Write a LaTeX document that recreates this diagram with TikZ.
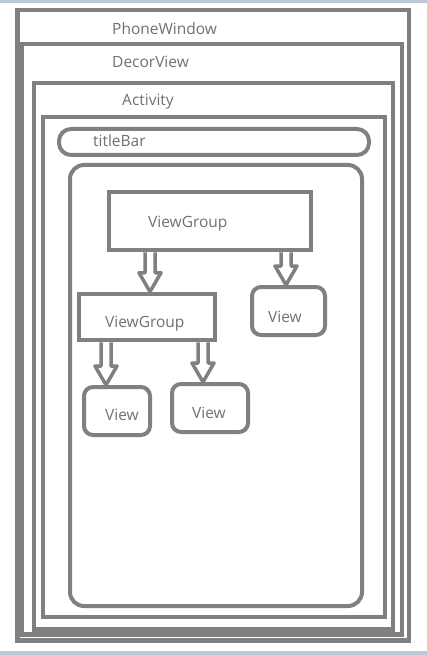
\documentclass[tikz,border=0pt]{standalone}
\usepackage{fontspec}
\setmainfont{Open Sans}
\usetikzlibrary{arrows.meta,positioning,calc}

\definecolor{edge}{RGB}{128,128,128}
\definecolor{ink}{RGB}{112,112,112}
\definecolor{band}{RGB}{188,200,218}

\begin{document}
\begin{tikzpicture}[x=1pt, y=-1pt,
  frame/.style={draw=edge, line width=4.5pt, inner sep=0pt},
  bar/.style={draw=edge, line width=4pt, rounded corners=12pt, inner sep=0pt},
  panel/.style={draw=edge, line width=4pt, rounded corners=14pt, inner sep=0pt},
  grpbox/.style={draw=edge, line width=4.5pt, inner sep=0pt},
  viewbox/.style={draw=edge, line width=4pt, rounded corners=9pt,
                  inner sep=0pt, minimum height=48pt},
  lbl/.style={anchor=base west, inner sep=0pt, text=ink,
              font=\fontsize{15.5}{18}\selectfont},
  hollow/.style={draw=edge, line width=3.5pt, line join=round},
]
\useasboundingbox (0,0) rectangle (427,655);

%% ---- window bands ----
\fill[band] (0,0) rectangle (427,3);
\fill[band] (0,651) rectangle (427,655);

%% ---- nested frames ----
\node[frame, minimum width=391.5pt, minimum height=630.5pt] (phone) at (213.25,325.25) {};
\node[frame, minimum width=380pt, minimum height=590.5pt] (decor) at (212,339.25) {};
\node[frame, minimum width=359pt, minimum height=546.5pt] (act) at (213.5,356.25) {};
\node[frame, minimum width=342pt, minimum height=500pt] (inner) at (214,367) {};

\node[lbl] (tphone) at (112,35) {PhoneWindow};
\node[lbl] (tdecor) at (112,68) {DecorView};
\node[lbl] (tact) at (122,106) {Activity};

%% ---- title bar and content ----
\node[bar, minimum width=310pt, minimum height=26pt] (title) at (214,142) {};
\node[lbl] (ttitle) at (93,147) {titleBar};

\node[panel, minimum width=292pt, minimum height=441pt] (content) at (216,385.5) {};

%% ---- view tree ----
\node[grpbox, minimum width=202pt, minimum height=58pt] (vg1) at (210,221) {};
\node[lbl] (tvg1) at (148,227) {ViewGroup};

\node[grpbox, minimum width=136pt, minimum height=46pt] (vg2) at (147,317) {};
\node[lbl] (tvg2) at (105,327) {ViewGroup};

\node[viewbox, minimum width=73pt] (vwr) at (288.5,311) {};
\node[lbl] (tvwr) at (268,322) {View};

\node[viewbox, minimum width=66pt] (vwa) at (117,411) {};
\node[lbl] (tvwa) at (105,420) {View};

\node[viewbox, minimum width=76pt] (vwb) at (210,408) {};
\node[lbl] (tvwb) at (192,418) {View};

%% ---- hollow arrows ----
\path (vg2.north) ++(3,0) coordinate (a1);
\path (vwr.north) ++(-2.5,0) coordinate (a2);
\path (vwa.north) ++(-11,0) coordinate (a3);
\path (vwb.north) ++(-7,0) coordinate (a4);
\path (vg1.south -| a1) coordinate (s1);
\path (vg1.south -| a2) coordinate (s2);
\path (vg2.south -| a3) coordinate (s3);
\path (vg2.south -| a4) coordinate (s4);

\foreach \i in {1,...,4}
  \draw[hollow] ($(s\i)+(-5,0)$) -- ($(a\i)+(-5,-19)$) -- ($(a\i)+(-11,-19)$)
    -- (a\i) -- ($(a\i)+(11,-19)$) -- ($(a\i)+(5,-19)$) -- ($(s\i)+(5,0)$);

\end{tikzpicture}
\end{document}
